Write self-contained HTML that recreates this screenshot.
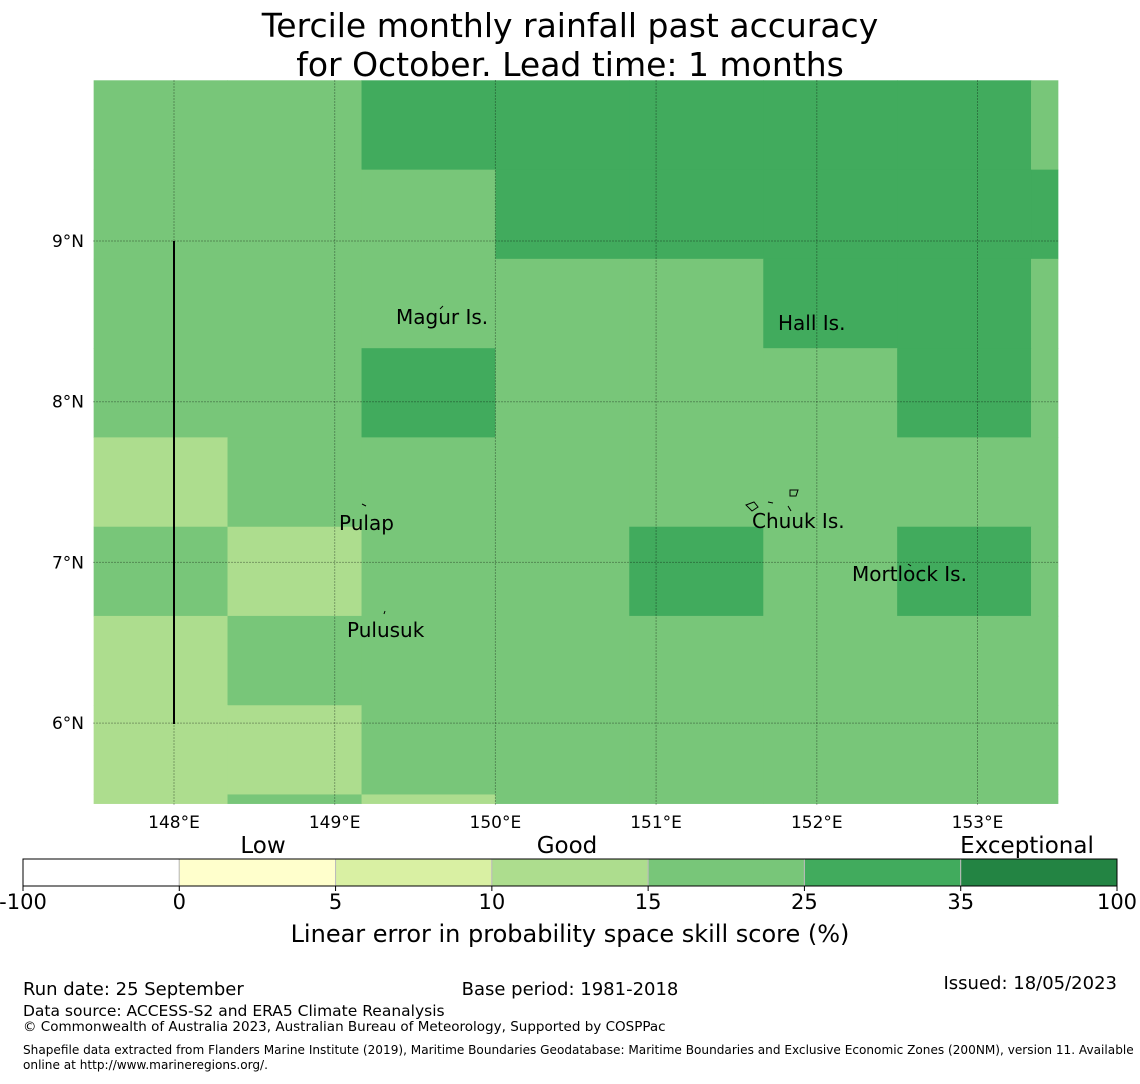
<!DOCTYPE html>
<html><head><meta charset="utf-8">
<style>
body{margin:0;background:#fff;font-family:"DejaVu Sans","Liberation Sans",sans-serif;}
svg text{font-family:"DejaVu Sans","Liberation Sans",sans-serif;}
</style></head>
<body>
<svg id="chart" width="1140" height="1080" xmlns="http://www.w3.org/2000/svg">
<text x="570" y="37" font-size="33" text-anchor="middle">Tercile monthly rainfall past accuracy</text>
<text x="570" y="76" font-size="33" text-anchor="middle">for October. Lead time: 1 months</text>
<g id="cells"></g>
<g id="grid"></g>
<line x1="174" y1="241" x2="174" y2="724" stroke="#000" stroke-width="2"/>
<g font-size="20">
<text x="396" y="324">Magur Is.</text>
<text x="778" y="330">Hall Is.</text>
<text x="339" y="530">Pulap</text>
<text x="752" y="528">Chuuk Is.</text>
<text x="852" y="581">Mortlock Is.</text>
<text x="347" y="637">Pulusuk</text>
</g>
<g stroke="#000" fill="none" stroke-width="1">
<path d="M440 309 l3 -3"/><path d="M362 504 l4 2"/><path d="M384 614 l1 -3"/>
<path d="M746 505 l8 -3 l4 5 l-6 4 z"/><path d="M790 490 l8 0 l-2 6 l-6 0 z"/><path d="M768 502 l5 1"/><path d="M788 506 l3 5"/><path d="M908 564 l3 2"/>
</g>
<g id="axes" font-size="17"></g>
<g id="cbar"></g>
<text x="263" y="853" font-size="23" text-anchor="middle">Low</text>
<text x="567" y="853" font-size="23" text-anchor="middle">Good</text>
<text x="1027" y="853" font-size="23" text-anchor="middle">Exceptional</text>
<text x="570" y="942" font-size="24" text-anchor="middle">Linear error in probability space skill score (%)</text>
<text x="23" y="995" font-size="18">Run date: 25 September</text>
<text x="570" y="995" font-size="18" text-anchor="middle">Base period: 1981-2018</text>
<text x="1117" y="989" font-size="18" text-anchor="end">Issued: 18/05/2023</text>
<text x="23" y="1016" font-size="15.5">Data source: ACCESS-S2 and ERA5 Climate Reanalysis</text>
<text x="23" y="1031" font-size="13.5">© Commonwealth of Australia 2023, Australian Bureau of Meteorology, Supported by COSPPac</text>
<text x="23" y="1054" font-size="12.1">Shapefile data extracted from Flanders Marine Institute (2019), Maritime Boundaries Geodatabase: Maritime Boundaries and Exclusive Economic Zones (200NM), version 11. Available</text>
<text x="23" y="1069" font-size="12.1">online at http://www.marineregions.org/.</text>
</svg>
<script>
// grid cell edges in degrees
const lonEdges=[147.5,148.333,149.167,150.0,150.833,151.667,152.5,153.333,153.5];
const latEdges=[10.0,9.444,8.889,8.333,7.778,7.222,6.667,6.111,5.556,5.5];
// skill values per row (north to south)
const skill=[
[20,20,30,30,30,30,30,20],
[20,20,20,30,30,30,30,30],
[20,20,20,20,20,30,30,20],
[20,20,30,20,20,20,30,20],
[12,20,20,20,20,20,20,20],
[20,12,20,20,30,20,30,20],
[12,20,20,20,20,20,20,20],
[12,12,20,20,20,20,20,20],
[12,20,12,20,20,20,20,20]];
const lonTicks=[148,149,150,151,152,153];
const latTicks=[9,8,7,6];
const cbBounds=[-100,0,5,10,15,25,35,100];
const cbColors=["#ffffff","#ffffcc","#d9f0a3","#addd8e","#78c679","#41ab5d","#238443"];

const NS="http://www.w3.org/2000/svg";
const X0=93,X1=1058,Y0=80,Y1=805;
const x=lon=>Math.min(X1,Math.max(X0,174+(lon-148)*160.7));
const y=lat=>Math.min(Y1,Math.max(Y0,241+(9-lat)*160.7));
function color(v){for(let i=cbBounds.length-2;i>=0;i--){if(v>=cbBounds[i])return cbColors[i];}return cbColors[0];}
function mk(t,a,p){const e=document.createElementNS(NS,t);for(const k in a)e.setAttribute(k,a[k]);p.appendChild(e);return e;}
const cells=document.getElementById('cells');
skill.forEach((row,r)=>row.forEach((v,c)=>{
 const x0=x(lonEdges[c]),x1=x(lonEdges[c+1]),y0=y(latEdges[r]),y1=y(latEdges[r+1]);
 const e=mk('rect',{x:x0,y:y0,width:x1-x0+0.5,height:y1-y0+0.5,fill:color(v)},cells);
 
 
}));
const grid=document.getElementById('grid'),axes=document.getElementById('axes');
lonTicks.forEach(l=>{
 const g=mk('line',{x1:x(l),x2:x(l),y1:Y0,y2:Y1,stroke:'#000','stroke-opacity':0.3,'stroke-width':1,'stroke-dasharray':'2,1'},grid);
 
 
 const t=mk('text',{x:x(l),y:828,'text-anchor':'middle'},axes);t.textContent=l+'°E';
 
 
});
latTicks.forEach(l=>{
 const g=mk('line',{x1:X0,x2:X1,y1:y(l),y2:y(l),stroke:'#000','stroke-opacity':0.3,'stroke-width':1,'stroke-dasharray':'2,1'},grid);
 
 
 const t=mk('text',{x:84,y:y(l)+6,'text-anchor':'end'},axes);t.textContent=l+'°N';
 
 
});
const cb=document.getElementById('cbar');
const CX0=23,CX1=1117,CW=(CX1-CX0)/cbColors.length;
cbColors.forEach((c,i)=>{
 const e=mk('rect',{x:CX0+i*CW,y:859,width:CW,height:27,fill:c,stroke:'#bbb','stroke-width':1},cb);
 
 
});
mk('rect',{x:CX0,y:859,width:CX1-CX0,height:27,fill:'none',stroke:'#000','stroke-width':1},cb);
cbBounds.forEach((b,i)=>{
 const xx=CX0+i*CW;
 mk('line',{x1:xx,x2:xx,y1:886,y2:891,stroke:'#000'},cb);
 const t=mk('text',{x:xx,y:909,'text-anchor':'middle','font-size':21},cb);t.textContent=b;
 
 
});
</script>
</body></html>
